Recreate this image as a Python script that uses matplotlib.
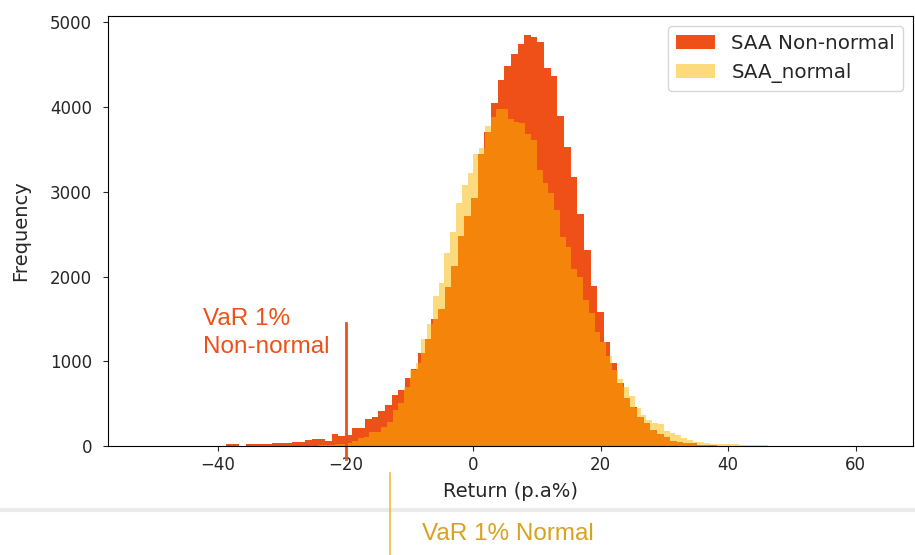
import numpy as np
import matplotlib
matplotlib.use('Agg')
import matplotlib.pyplot as plt

# histogram counts
# non-normal: 74 bins between -38.8 and 38.2
red_counts = [20, 20, 0, 20, 22, 22, 25, 40, 40, 40,
              50, 50, 67, 82, 82, 60, 138, 118, 130, 216,
              216, 318, 346, 417, 484, 605, 657, 806, 908, 1100,
              1263, 1499, 1617, 1872, 2128, 2478, 2714, 2923, 3450, 3709,
              4051, 4319, 4488, 4622, 4744, 4846, 4830, 4771, 4457, 4370,
              3898, 3525, 3170, 2734, 2313, 1892, 1585, 1231, 976, 740,
              563, 464, 346, 268, 189, 138, 103, 63, 44, 32,
              32, 15, 15, 12]
red_range = (-38.8, 38.2)

# normal: 100 bins between -44.3 and 46.2
yellow_counts = [1, 0, 0, 0, 0, 0, 0, 0, 0, 0,
                 0, 0, 0, 0, 0, 1, 1, 1, 2, 2,
                 3, 4, 6, 9, 12, 18, 25, 32, 59, 91,
                 110, 162, 169, 228, 287, 425, 504, 693, 897, 976,
                 1263, 1440, 1770, 1927, 2273, 2529, 2864, 3080, 3218, 3446,
                 3513, 3776, 3886, 3973, 3973, 3855, 3827, 3815, 3682, 3611,
                 3257, 3100, 2989, 2785, 2470, 2345, 2085, 1991, 1723, 1573,
                 1349, 1231, 1062, 900, 787, 693, 590, 445, 366, 307,
                 268, 256, 177, 150, 130, 91, 71, 51, 51, 39,
                 27, 27, 20, 18, 18, 15, 15, 12, 10, 8]
yellow_range = (-44.3, 46.2)

var_nonnormal = -19.9
var_normal = -13.0

red = '#EF5018'
yellow = '#FBB900'
txt = '#262626'

fig = plt.figure(figsize=(9.15, 5.55), dpi=100)
ax = fig.add_axes([108 / 915, 1 - 446 / 555, 805 / 915, 430 / 555])

red_edges = np.linspace(red_range[0], red_range[1], len(red_counts) + 1)
yellow_edges = np.linspace(yellow_range[0], yellow_range[1], len(yellow_counts) + 1)

ax.hist(red_edges[:-1], bins=red_edges, weights=red_counts, histtype='stepfilled',
        color=red, label='SAA Non-normal')
ax.hist(yellow_edges[:-1], bins=yellow_edges, weights=yellow_counts, histtype='stepfilled',
        color=yellow, alpha=0.5, label='SAA_normal')

ax.set_xlim(-57.25, 69.0)
ax.set_ylim(0, 5074)
ax.set_xticks([-40, -20, 0, 20, 40, 60])
ax.set_yticks([0, 1000, 2000, 3000, 4000, 5000])
ax.tick_params(labelsize=12, colors=txt)
ax.tick_params(axis='y', pad=8)
ax.set_xlabel('Return (p.a%)', fontsize=14, color=txt, labelpad=6)
ax.set_ylabel('Frequency', fontsize=14, color=txt, labelpad=14)
leg = ax.legend(loc='upper right', fontsize=14.3)
for t in leg.get_texts():
    t.set_color(txt)

# VaR non-normal marker, runs a bit below the axis
ax.plot([var_nonnormal, var_nonnormal], [1450, -153], color=red, lw=2, clip_on=False)
fig.text(203 / 915, 1 - 325 / 555, 'VaR 1%', color=red, fontsize=17.5,
         family='Liberation Sans', va='baseline')
fig.text(203 / 915, 1 - 353 / 555, 'Non-normal', color=red, fontsize=17.5,
         family='Liberation Sans', va='baseline')

# lower strip with the normal VaR label
fig.add_artist(plt.Line2D([0, 1], [1 - 510 / 555, 1 - 510 / 555], color='#EBEBEB', lw=3,
                          transform=fig.transFigure))
xn = ax.transData.transform((var_normal, 0))[0] / fig.bbox.width
fig.add_artist(plt.Line2D([xn, xn], [1 - 473 / 555, 0], color='#F2BC3A', lw=1.2,
                          transform=fig.transFigure))
fig.text(422 / 915, 1 - 540 / 555, 'VaR 1% Normal', color='#D9A21E', fontsize=17.5,
         family='Liberation Sans', va='baseline')

plt.savefig('out.png', dpi=100)
